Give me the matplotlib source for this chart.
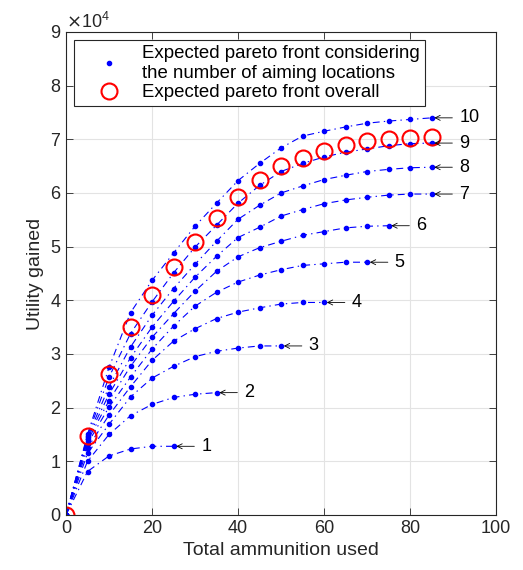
import numpy as np
import matplotlib
matplotlib.use('Agg')
import matplotlib.pyplot as plt
from matplotlib.lines import Line2D

plt.rcParams['font.family'] = ['Liberation Sans', 'DejaVu Sans']
plt.rcParams['lines.scale_dashes'] = False

# ── Data (utility in units of 1e4) ───────────────────────────────────────────

ammo = [0, 5, 10, 15, 20, 25, 30, 35, 40, 45, 50, 55, 60, 65, 70, 75, 80, 85]

# curve k = number of aiming locations, values at ammo[0:len]
curve_vals = {
    1:  [0, 0.81, 1.10, 1.23, 1.28, 1.28],
    2:  [0, 1.00, 1.50, 1.85, 2.06, 2.19, 2.25, 2.28],
    3:  [0, 1.15, 1.69, 2.20, 2.55, 2.77, 2.95, 3.05, 3.11, 3.15, 3.15],
    4:  [0, 1.25, 1.86, 2.39, 2.88, 3.24, 3.47, 3.66, 3.78, 3.86, 3.93, 3.96, 3.96],
    5:  [0, 1.33, 2.01, 2.57, 3.09, 3.52, 3.89, 4.15, 4.34, 4.47, 4.57, 4.65, 4.68,
         4.71, 4.71],
    6:  [0, 1.38, 2.13, 2.77, 3.31, 3.75, 4.17, 4.54, 4.81, 4.98, 5.10, 5.21, 5.28,
         5.35, 5.38, 5.39],
    7:  [0, 1.42, 2.25, 2.93, 3.50, 3.98, 4.43, 4.82, 5.17, 5.36, 5.57, 5.69, 5.80,
         5.87, 5.92, 5.96, 5.98, 5.98],
    8:  [0, 1.45, 2.39, 3.13, 3.72, 4.22, 4.67, 5.10, 5.51, 5.77, 6.00, 6.13, 6.25,
         6.33, 6.40, 6.44, 6.47, 6.48],
    9:  [0, 1.48, 2.57, 3.38, 3.97, 4.51, 4.99, 5.40, 5.81, 6.14, 6.40, 6.55, 6.67,
         6.76, 6.82, 6.88, 6.92, 6.93],
    10: [0, 1.50, 2.75, 3.77, 4.37, 4.88, 5.38, 5.81, 6.23, 6.55, 6.84, 7.06, 7.15,
         7.23, 7.30, 7.34, 7.37, 7.40],
}

overall = [0, 1.47, 2.62, 3.50, 4.10, 4.62, 5.08, 5.53, 5.93, 6.25, 6.51, 6.66,
           6.78, 6.90, 6.97, 7.00, 7.03, 7.05]

SCALE = 1e4
DARK = '#262626'

# ── Plot ──────────────────────────────────────────────────────────────────────

fig = plt.figure(figsize=(5.23, 5.70), dpi=100)
ax = fig.add_axes([0.1262, 0.0965, 0.8222, 0.8474])

for k, vals in curve_vals.items():
    x = np.array(ammo[:len(vals)])
    y = np.array(vals) * SCALE
    ax.plot(x, y, color='blue', linestyle='-.', dashes=(5, 3, 1, 3),
            linewidth=0.8, marker='.', markersize=6)
    ax.annotate(str(k), xy=(x[-1], y[-1]), xytext=(20, 0),
                textcoords='offset points', fontsize=13, ha='left',
                va='center', color='black',
                arrowprops=dict(arrowstyle='->', color='black', lw=0.6,
                                shrinkA=3, shrinkB=2, mutation_scale=9))

ax.plot(ammo, np.array(overall) * SCALE, linestyle='none', marker='o',
        markersize=11.5, markerfacecolor='none', markeredgecolor='red',
        markeredgewidth=1.5)

ax.set_xlim(0, 100)
ax.set_ylim(0, 9e4)
ax.set_xticks(np.arange(0, 101, 20))
ax.set_yticks(np.arange(0, 9.01e4, 1e4))
ax.ticklabel_format(style='sci', axis='y', scilimits=(0, 0), useMathText=True)
ax.yaxis.get_offset_text().set_fontsize(13)
ax.yaxis.get_offset_text().set_color(DARK)

ax.set_xlabel('Total ammunition used', fontsize=14, color=DARK)
ax.set_ylabel('Utility gained', fontsize=14, color=DARK)
ax.tick_params(direction='in', length=5, width=0.6, labelsize=13,
               top=True, right=True, colors=DARK)
for sp in ax.spines.values():
    sp.set_linewidth(0.8)
    sp.set_color(DARK)
ax.grid(True, color='#e3e3e3', linewidth=0.8)
ax.set_axisbelow(True)

handles = [
    Line2D([], [], color='blue', linestyle='none', marker='.', markersize=6),
    Line2D([], [], linestyle='none', marker='o', markersize=11.5,
           markerfacecolor='none', markeredgecolor='red', markeredgewidth=1.5),
]
labels = ['Expected pareto front considering\nthe number of aiming locations',
          'Expected pareto front overall']
leg = ax.legend(handles, labels, loc='upper left', fontsize=13.4, fancybox=False,
                framealpha=1, edgecolor=DARK, borderaxespad=0.45,
                handlelength=3.2, handletextpad=0.2, borderpad=0.25,
                labelspacing=0.15)
leg.get_frame().set_linewidth(0.8)

fig.savefig('out.png', dpi=100)
